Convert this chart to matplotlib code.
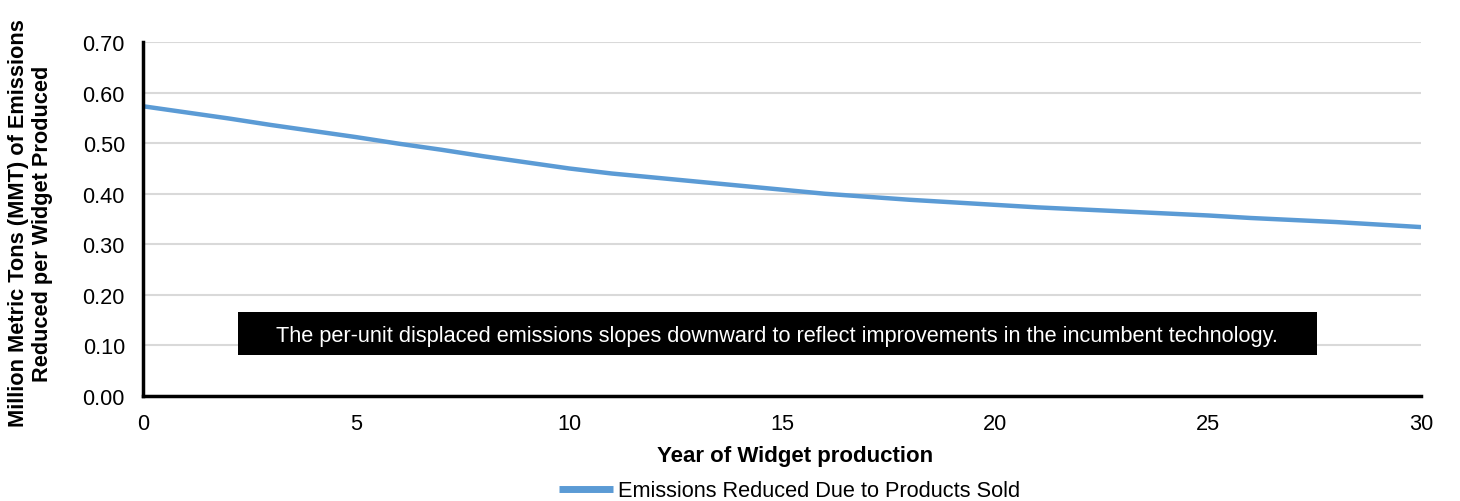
import matplotlib.pyplot as plt
from matplotlib.patches import Rectangle

plt.rcParams["font.family"] = ["Liberation Sans", "DejaVu Sans"]

# Displaced emissions per widget, by year of production
YEARS = list(range(0, 31))
EMISSIONS = [0.573, 0.561, 0.549, 0.536, 0.524, 0.512, 0.499, 0.487, 0.474, 0.462,
             0.450, 0.440, 0.432, 0.424, 0.416, 0.408, 0.400, 0.394, 0.388, 0.383,
             0.378, 0.373, 0.369, 0.365, 0.361, 0.357, 0.352, 0.348, 0.344, 0.339,
             0.334]

X_TICKS = [0, 5, 10, 15, 20, 25, 30]
Y_TICKS = [0.0, 0.1, 0.2, 0.3, 0.4, 0.5, 0.6, 0.7]

NOTE = ("The per-unit displaced emissions slopes downward to reflect "
        "improvements in the incumbent technology.")

FS = 15.7

fig = plt.figure(figsize=(14.6, 5.02), dpi=100)
ax = fig.add_axes([0.0979, 0.2092, 0.8754, 0.7051])

ax.plot(YEARS, EMISSIONS, color="#5B9BD5", linewidth=3.2,
        solid_capstyle="butt", label="Emissions Reduced Due to Products Sold",
        zorder=3)

ax.set_xlim(0, 30)
ax.set_ylim(0, 0.70)
ax.set_xticks(X_TICKS)
ax.set_xticklabels([str(x) for x in X_TICKS])
ax.set_yticks(Y_TICKS)
ax.set_yticklabels([f"{y:.2f}" for y in Y_TICKS])
ax.tick_params(axis="both", length=0, labelsize=FS)
ax.tick_params(axis="x", pad=12)
ax.tick_params(axis="y", pad=13)

ax.grid(axis="y", color="#D9D9D9", linewidth=1.5, zorder=0)
ax.set_axisbelow(True)
for side in ("top", "right"):
    ax.spines[side].set_visible(False)
for side in ("left", "bottom"):
    ax.spines[side].set_linewidth(2.5)
    ax.spines[side].set_color("black")
    ax.spines[side].set_zorder(4)

ax.set_xlabel("Year of Widget production", fontsize=16, fontweight="bold")
ax.xaxis.set_label_coords(0.51, -0.138)
ax.set_ylabel("Million Metric Tons (MMT) of Emissions\nReduced per Widget Produced",
              fontsize=FS, fontweight="bold", linespacing=1.2)
ax.yaxis.set_label_coords(-0.0704, 0.49)

# black callout box with the explanatory note
ax.add_patch(Rectangle((0.0743, 0.1158), 0.8443, 0.1215, transform=ax.transAxes,
                       facecolor="black", edgecolor="none", zorder=5))
ax.text(0.496, 0.17, NOTE, transform=ax.transAxes, ha="center", va="center",
        color="white", fontsize=FS, zorder=6)

leg = ax.legend(loc="center", bbox_to_anchor=(0.506, -0.268), frameon=False,
                fontsize=FS, handlelength=2.5, handletextpad=0.23,
                borderpad=0, borderaxespad=0)
for line in leg.get_lines():
    line.set_linewidth(5)

fig.savefig("out.png", dpi=100)
